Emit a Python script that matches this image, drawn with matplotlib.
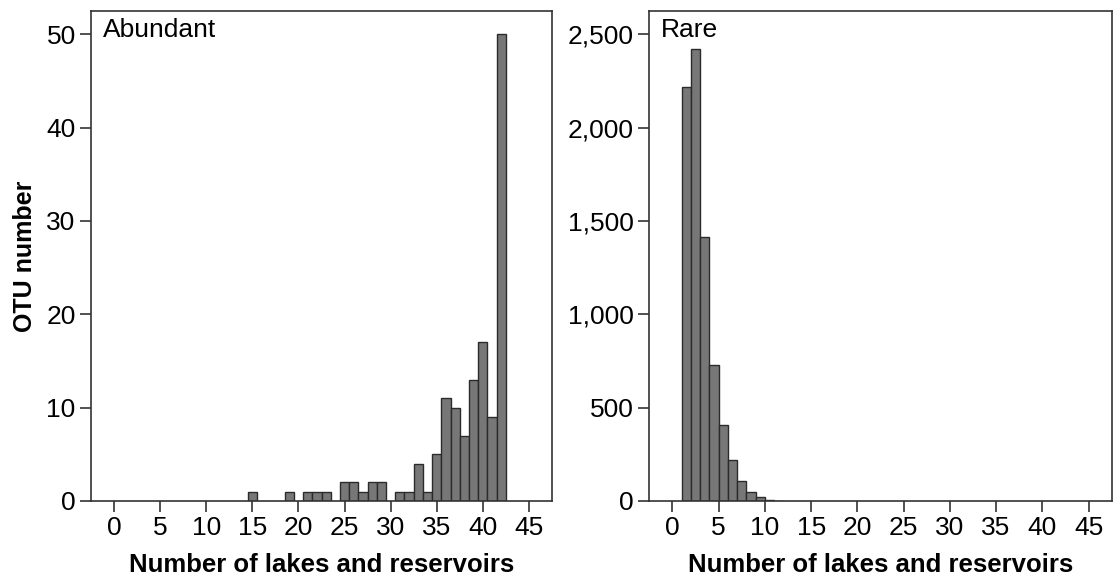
import numpy as np
import matplotlib
matplotlib.use("Agg")
import matplotlib.pyplot as plt
from matplotlib.ticker import FuncFormatter

plt.rcParams['font.family'] = ['Liberation Sans', 'DejaVu Sans']

# Abundant OTUs: number of lakes/reservoirs an OTU occurs in -> OTU count
abund_lakes = [15, 19, 21, 22, 23, 25, 26, 27, 28, 29, 31, 32, 33, 34,
               35, 36, 37, 38, 39, 40, 41, 42]
abund_counts = [1, 1, 1, 1, 1, 2, 2, 1, 2, 2, 1, 1, 4, 1,
                5, 11, 10, 7, 13, 17, 9, 50]

# Rare OTUs
rare_lakes = [1, 2, 3, 4, 5, 6, 7, 8, 9, 10, 11]
rare_counts = [2216, 2420, 1412, 731, 406, 218, 105, 50, 20, 6, 2]

bar_color = "#777777"
edge_color = "#2b2b2b"

fig = plt.figure(figsize=(11.16, 5.81), dpi=100)
ax1 = fig.add_axes([91 / 1116, 80 / 581, 461 / 1116, 490 / 581])
ax2 = fig.add_axes([649.3 / 1116, 80 / 581, 462.4 / 1116, 490 / 581])

ax1.bar(abund_lakes, abund_counts, width=1.0, align="center",
        color=bar_color, edgecolor=edge_color, linewidth=1.0)
ax2.bar(rare_lakes, rare_counts, width=1.0, align="edge",
        color=bar_color, edgecolor=edge_color, linewidth=1.0)

ax1.set_ylim(0, 52.5)
ax1.set_yticks([0, 10, 20, 30, 40, 50])
ax2.set_ylim(0, 2625)
ax2.set_yticks([0, 500, 1000, 1500, 2000, 2500])
ax2.yaxis.set_major_formatter(FuncFormatter(lambda v, p: f"{int(v):,}"))

for ax, name in [(ax1, "Abundant"), (ax2, "Rare")]:
    ax.set_xlim(-2.5, 47.5)
    ax.set_xticks(np.arange(0, 50, 5))
    for s in ax.spines.values():
        s.set_linewidth(1.2)
        s.set_color("#333333")
    ax.tick_params(axis="both", direction="out", length=8, width=1.2,
                   color="#333333", labelsize=19, pad=3)
    ax.set_xlabel("Number of lakes and reservoirs", fontsize=18.5,
                  fontweight="bold", labelpad=9)
    ax.text(0.025, 0.985, name, transform=ax.transAxes, fontsize=19,
            ha="left", va="top")

ax1.set_ylabel("OTU number", fontsize=18, fontweight="bold", labelpad=7)

fig.savefig("out.png", dpi=100)
